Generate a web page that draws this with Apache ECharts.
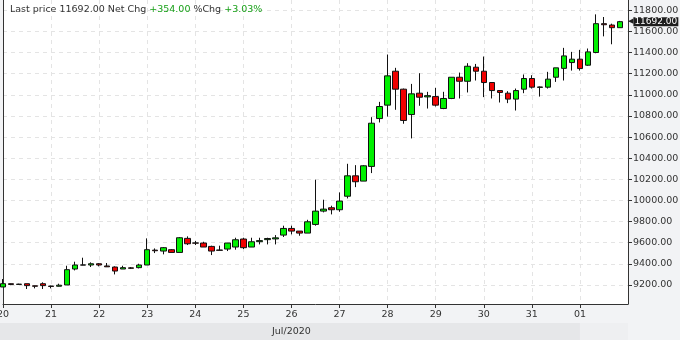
<!DOCTYPE html>
<html><head><meta charset="utf-8">
<script src="https://cdn.jsdelivr.net/npm/echarts@6/dist/echarts.min.js"></script>
<style>html,body{margin:0;padding:0;background:#f2f3f5}#c{width:680px;height:340px}</style>
</head><body><div id="c"></div>
<script>
// Day tick labels (4-hour slots, 6 per day); last entry is the right edge of the axis
const dayLabels = ['20','21','22','23','24','25','26','27','28','29','30','31','01','02'];
const monthLabel = 'Jul/2020';
const yTicks = [9200,9400,9600,9800,10000,10200,10400,10600,10800,11000,11200,11400,11600,11800];

const openVals  = [9181,9212,9205,9212,9192,9212,9190,9188,9200,9351,9388,9389,9401,9380,9370,9351,9362,9364,9389,9530,
  9521,9534,9508,9641,9598,9597,9565,9531,9540,9559,9635,9559,9610,9629,9636,9672,9735,9710,9691,9773,
  9899,9931,9912,10040,10233,10183,10322,10775,10902,11223,11053,10813,11015,10980,10983,10870,10965,11166,11128,11261,
  11223,11116,11040,11015,10959,11053,11154,11070,11072,11166,11250,11305,11337,11280,11400,11673,11660,11635];
const closeVals = [9212,9205,9208,9194,9188,9194,9186,9198,9345,9389,9390,9401,9389,9372,9332,9364,9358,9389,9534,9524,
  9553,9508,9647,9590,9596,9559,9521,9528,9597,9628,9553,9609,9620,9640,9646,9735,9710,9691,9798,9899,
  9918,9912,9994,10233,10177,10328,10731,10889,11179,11053,10757,11009,10977,10992,10902,10965,11166,11128,11270,11223,
  11116,11040,11022,10959,11040,11154,11072,11074,11148,11255,11368,11337,11248,11406,11673,11663,11635,11692];
const lowVals   = [9181,9198,9200,9162,9168,9162,9168,9186,9200,9338,9387,9370,9376,9370,9300,9351,9351,9357,9389,9502,
  9490,9508,9508,9578,9578,9559,9483,9527,9521,9534,9540,9559,9584,9584,9584,9654,9679,9666,9691,9761,
  9887,9868,9893,10019,10126,10183,10259,10738,10794,10858,10726,10587,10896,10870,10889,10864,10959,10965,11022,11135,
  10978,10965,10927,10921,10851,11015,11059,10983,11059,11122,11135,11229,11229,11274,11393,11553,11478,11635];
const highVals  = [9256,9214,9212,9212,9194,9225,9194,9212,9382,9420,9458,9414,9408,9408,9376,9382,9370,9401,9641,9546,
  9559,9540,9654,9660,9616,9609,9572,9572,9597,9647,9647,9647,9647,9647,9672,9761,9761,9710,9817,10196,
  10007,9950,10076,10347,10334,10334,10788,10933,11381,11255,11059,11103,11204,11028,11066,11028,11166,11210,11299,11292,
  11362,11116,11040,11034,11059,11192,11185,11078,11217,11255,11444,11406,11425,11438,11761,11736,11673,11699];

const lastPrice = 11692.00, netChg = 354.00, pctChg = 3.03;

const FONT = 'DejaVu Sans';
const categories = [];
dayLabels.forEach((d, di) => {
  for (let h = 0; h < 6; h++) {
    if (di === dayLabels.length - 1 && h > 0) break;
    categories.push(d + ' ' + String(h * 4).padStart(2, '0') + ':00');
  }
});
const lastIdx = categories.length - 1;
const dayStart = (idx) => idx % 6 === 0 && idx < lastIdx;
const candles = openVals.map((o, i) => [o, closeVals[i], lowVals[i], highVals[i]]);

const chart = echarts.init(document.getElementById('c'), null, {renderer: 'canvas'});
const option = {
  animation: false,
  backgroundColor: '#f2f3f5',
  textStyle: {fontFamily: FONT},
  title: {
    left: 10, top: 5, padding: 0,
    text: '{a|Last price ' + lastPrice.toFixed(2) + ' Net Chg }{g|+' + netChg.toFixed(2) + '}{a| %Chg }{g|+' + pctChg.toFixed(2) + '%}',
    textStyle: {
      rich: {
        a: {fontFamily: FONT, fontSize: 9.5, color: '#333', fontWeight: 'normal'},
        g: {fontFamily: FONT, fontSize: 9.5, color: '#17a017', fontWeight: 'normal'}
      }
    }
  },
  grid: {left: 3, right: 52, top: 0, bottom: 36, show: true, backgroundColor: '#fff', borderWidth: 0,
    containLabel: false, outerBoundsMode: 'none'},
  xAxis: {
    type: 'category', data: categories, boundaryGap: false,
    axisLine: {show: true, lineStyle: {color: '#333', width: 1}},
    axisTick: {show: true, interval: (i) => dayStart(i), length: 4, lineStyle: {color: '#333'}},
    axisLabel: {interval: (i) => dayStart(i), formatter: (v) => v.split(' ')[0], color: '#333',
      fontFamily: FONT, fontSize: 9.5, margin: 6, hideOverlap: false},
    splitLine: {show: true, interval: (i) => dayStart(i), lineStyle: {color: '#e4e4e4', type: [4, 4]}}
  },
  yAxis: [{
    type: 'value', position: 'right', min: 9020, max: 11897, scale: true,
    axisLine: {show: true, lineStyle: {color: '#333', width: 1}},
    axisTick: {show: true, length: 4, customValues: yTicks, lineStyle: {color: '#333'}},
    axisLabel: {customValues: yTicks, formatter: (v) => v.toFixed(2), color: '#333', fontFamily: FONT, fontSize: 9.5, margin: 5},
    splitLine: {show: true, lineStyle: {color: '#e4e4e4', type: [4, 4]}}
  }, {
    type: 'value', position: 'left', min: 9020, max: 11897,
    axisLine: {show: true, lineStyle: {color: '#333', width: 1}},
    axisTick: {show: false}, axisLabel: {show: false}, splitLine: {show: false}
  }],
  series: [{
    type: 'candlestick',
    data: candles,
    barWidth: 6,
    itemStyle: {color: '#00f000', color0: '#f00000', borderColor: '#111', borderColor0: '#111', borderColorDoji: '#111', borderWidth: 1},
    markLine: {
      silent: true, symbol: ['none', 'none'], animation: false,
      lineStyle: {color: 'rgba(0,0,0,0)', width: 1, type: 'solid'},
      label: {
        show: true, position: 'end', distance: 0, opacity: 1,
        formatter: '{a|◀}{b|' + lastPrice.toFixed(2) + '}',
        rich: {
          a: {color: '#1e1e1e', fontSize: 7, fontFamily: FONT, lineHeight: 10},
          b: {color: '#fff', backgroundColor: '#1e1e1e', fontSize: 9, fontFamily: FONT, lineHeight: 10, padding: [0, 1, 0, 1]}
        }
      },
      data: [{yAxis: lastPrice}]
    }
  }]
};
chart.setOption(option);

// month band at bottom (July segment / August segment), positioned from the axis scale
const xAug = chart.convertToPixel({xAxisIndex: 0}, categories[72]);
const xEnd = chart.convertToPixel({xAxisIndex: 0}, categories[lastIdx]);
const xStart = chart.convertToPixel({xAxisIndex: 0}, categories[0]);
chart.setOption({
  graphic: [
    {type: 'rect', shape: {x: 0, y: 323, width: xAug, height: 17}, style: {fill: '#e6e7e9'}, z: -1},
    {type: 'rect', shape: {x: xAug, y: 323, width: xEnd - xAug, height: 17}, style: {fill: '#eeeff1'}, z: -1},
    {type: 'text', x: (xStart + xAug) / 2, y: 332, style: {text: monthLabel, fill: '#333', font: '9.5px "DejaVu Sans"', textAlign: 'center', textVerticalAlign: 'middle'}}
  ]
});
</script>
</body></html>
